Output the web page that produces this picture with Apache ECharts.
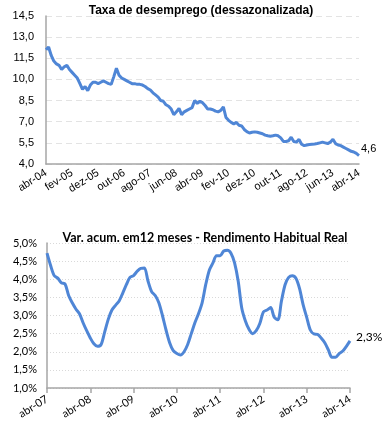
<!DOCTYPE html>
<html>
<head>
<meta charset="utf-8">
<script src="https://cdn.jsdelivr.net/npm/echarts@6/dist/echarts.min.js"></script>
<style>
html,body{margin:0;padding:0;background:#fff;}
#c{width:387px;height:432px;}
</style>
</head>
<body>
<div id="c"></div>
<script>
var monthNames = ['jan','fev','mar','abr','mai','jun','jul','ago','set','out','nov','dez'];
function monthCats(startYear, startMonth, count) {
  var out = [];
  for (var i = 0; i < count; i++) {
    var m = (startMonth + i) % 12;
    var y = startYear + Math.floor((startMonth + i) / 12);
    out.push(monthNames[m] + '-' + String(y % 100).padStart(2, '0'));
  }
  return out;
}

// Top chart: unemployment rate (seasonally adjusted), abr-04 .. abr-14
var unempCategories = monthCats(2004, 3, 121);
var unempValues = [
  12.1,12.3,11.7,11.3,11.1,11.0,10.7,10.9,11.0,10.7,
  10.5,10.3,10.1,9.7,9.3,9.5,9.2,9.6,9.8,9.8,
  9.7,9.8,9.9,9.8,9.7,9.65,10.2,10.8,10.3,10.1,
  10.0,9.9,9.8,9.7,9.7,9.65,9.65,9.6,9.5,9.35,
  9.25,9.05,8.9,8.75,8.5,8.45,8.2,8.1,7.9,7.5,
  7.7,7.95,7.5,7.7,7.8,7.9,8.0,8.5,8.3,8.45,
  8.35,8.15,7.9,7.9,7.85,7.75,7.7,7.8,8.05,7.3,
  7.1,6.95,6.85,6.95,6.75,6.7,6.45,6.3,6.2,6.25,
  6.28,6.25,6.2,6.15,6.05,6.0,5.97,6.0,6.05,6.0,
  5.85,5.6,5.6,5.65,5.9,5.6,5.55,5.75,5.4,5.3,
  5.35,5.38,5.4,5.42,5.45,5.5,5.55,5.5,5.45,5.55,
  5.75,5.45,5.35,5.3,5.2,5.1,5.0,4.9,4.85,4.75,
  4.6
];
var unempTicks = {min: 4.0, max: 14.5, step: 1.5};

// Bottom chart: 12-month accumulated change, real habitual income, abr-07 .. abr-14
var incomeCategories = monthCats(2007, 3, 85);
var incomeValues = [
  4.72,4.38,4.10,4.03,3.90,3.87,3.55,3.35,3.18,3.05,
  2.80,2.58,2.38,2.22,2.15,2.20,2.55,2.90,3.15,3.28,
  3.40,3.62,3.85,4.05,4.10,4.22,4.30,4.31,3.95,3.66,
  3.55,3.35,3.00,2.60,2.25,2.03,1.95,1.91,2.00,2.20,
  2.50,2.80,3.05,3.35,3.85,4.25,4.45,4.65,4.65,4.78,
  4.80,4.72,4.45,3.95,3.20,2.85,2.62,2.50,2.58,2.78,
  3.10,3.15,3.22,2.95,2.88,3.40,3.85,4.05,4.10,4.03,
  3.75,3.30,2.95,2.60,2.49,2.48,2.38,2.25,2.05,1.85,
  1.85,1.95,2.02,2.15,2.30
];
var incomeTicks = {min: 1.0, max: 5.0, step: 0.5};

var titles = ['Taxa de desemprego (dessazonalizada)', 'Var. acum. em12 meses - Rendimento Habitual Real'];

function fmt(v){ return v.toFixed(1).replace('.', ','); }

var lineColor = '#4F86D6';
var chart = echarts.init(document.getElementById('c'), null, {renderer: 'canvas'});
chart.setOption({
  animation: false,
  backgroundColor: '#fff',
  title: [
    {text: titles[0], left: 196, top: 0, textAlign: 'center',
     textStyle: {fontFamily: 'Liberation Sans', fontSize: 12, fontWeight: 'bold', color: '#000'}},
    {text: titles[1], left: 200, top: 226, textAlign: 'center',
     textStyle: {fontFamily: 'Lato', fontSize: 12.5, fontWeight: 'bold', color: '#000'}}
  ],
  grid: [
    {left: 46, right: 28, top: 16, height: 148},
    {left: 47, right: 37, top: 243, height: 145}
  ],
  xAxis: [
    {gridIndex: 0, type: 'category', data: unempCategories, boundaryGap: false,
     axisLine: {lineStyle: {color: '#A6A6A6', width: 1.5}},
     axisTick: {show: false},
     axisLabel: {interval: 9, rotate: 32, margin: 8, fontFamily: 'Liberation Sans', fontSize: 11, color: '#000'},
     splitLine: {show: false}},
    {gridIndex: 1, type: 'category', data: incomeCategories, boundaryGap: false,
     axisLine: {lineStyle: {color: '#A6A6A6', width: 1.5}},
     axisTick: {show: true, interval: 11, length: 5, lineStyle: {color: '#A6A6A6', width: 1.5}},
     axisLabel: {interval: 11, rotate: 32, margin: 10, fontFamily: 'Lato', fontSize: 11, color: '#000'},
     splitLine: {show: false}}
  ],
  yAxis: [
    {gridIndex: 0, type: 'value', min: unempTicks.min, max: unempTicks.max, interval: unempTicks.step,
     axisLine: {show: true, lineStyle: {color: '#A6A6A6', width: 1.5}},
     axisTick: {show: false},
     axisLabel: {formatter: function(v){return fmt(v);}, margin: 12, fontFamily: 'Liberation Sans', fontSize: 11, color: '#000'},
     splitLine: {lineStyle: {color: '#E3E3E3', type: [6, 4], width: 1}}},
    {gridIndex: 1, type: 'value', min: incomeTicks.min, max: incomeTicks.max, interval: incomeTicks.step,
     axisLine: {show: true, lineStyle: {color: '#A6A6A6', width: 1.5}},
     axisTick: {show: false},
     axisLabel: {formatter: function(v){return fmt(v) + '%';}, margin: 10, fontFamily: 'Lato', fontSize: 11, color: '#000'},
     splitLine: {lineStyle: {color: '#D9D9D9', type: [1, 2], width: 1}}}
  ],
  series: [
    {type: 'line', xAxisIndex: 0, yAxisIndex: 0, data: unempValues, showSymbol: false, smooth: false,
     lineStyle: {color: lineColor, width: 3},
     endLabel: {show: true, formatter: function(p){return fmt(p.value);}, offset: [-1, -7], distance: 3,
       fontFamily: 'Liberation Sans', fontSize: 11, color: '#000'}},
    {type: 'line', xAxisIndex: 1, yAxisIndex: 1, data: incomeValues, showSymbol: false, smooth: 0.3,
     lineStyle: {color: lineColor, width: 3},
     endLabel: {show: true, formatter: function(p){return fmt(p.value) + '%';}, offset: [0, -4], distance: 6,
       fontFamily: 'Lato', fontSize: 12, color: '#000'}}
  ]
});
</script>
</body>
</html>
